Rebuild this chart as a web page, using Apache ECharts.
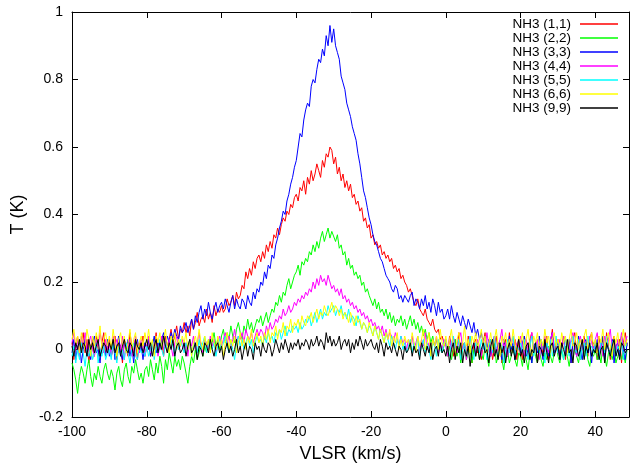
<!DOCTYPE html>
<html>
<head>
<meta charset="utf-8">
<script src="https://cdn.jsdelivr.net/npm/echarts@6/dist/echarts.min.js"></script>
<style>
html,body{margin:0;padding:0;background:#fff;}
#chart{width:632px;height:468px;}
</style>
</head>
<body>
<div id="chart"></div>
<script>
// Velocity channels (km/s)
const vlsr = [
-100,-99.5,-99,-98.5,-98,-97.5,-97,-96.5,-96,-95.5,-95,-94.5,-94,-93.5,-93,-92.5,-92,-91.5,-91,-90.5,
-90,-89.5,-89,-88.5,-88,-87.5,-87,-86.5,-86,-85.5,-85,-84.5,-84,-83.5,-83,-82.5,-82,-81.5,-81,-80.5,
-80,-79.5,-79,-78.5,-78,-77.5,-77,-76.5,-76,-75.5,-75,-74.5,-74,-73.5,-73,-72.5,-72,-71.5,-71,-70.5,
-70,-69.5,-69,-68.5,-68,-67.5,-67,-66.5,-66,-65.5,-65,-64.5,-64,-63.5,-63,-62.5,-62,-61.5,-61,-60.5,
-60,-59.5,-59,-58.5,-58,-57.5,-57,-56.5,-56,-55.5,-55,-54.5,-54,-53.5,-53,-52.5,-52,-51.5,-51,-50.5,
-50,-49.5,-49,-48.5,-48,-47.5,-47,-46.5,-46,-45.5,-45,-44.5,-44,-43.5,-43,-42.5,-42,-41.5,-41,-40.5,
-40,-39.5,-39,-38.5,-38,-37.5,-37,-36.5,-36,-35.5,-35,-34.5,-34,-33.5,-33,-32.5,-32,-31.5,-31,-30.5,
-30,-29.5,-29,-28.5,-28,-27.5,-27,-26.5,-26,-25.5,-25,-24.5,-24,-23.5,-23,-22.5,-22,-21.5,-21,-20.5,
-20,-19.5,-19,-18.5,-18,-17.5,-17,-16.5,-16,-15.5,-15,-14.5,-14,-13.5,-13,-12.5,-12,-11.5,-11,-10.5,
-10,-9.5,-9,-8.5,-8,-7.5,-7,-6.5,-6,-5.5,-5,-4.5,-4,-3.5,-3,-2.5,-2,-1.5,-1,-0.5,
0,0.5,1,1.5,2,2.5,3,3.5,4,4.5,5,5.5,6,6.5,7,7.5,8,8.5,9,9.5,
10,10.5,11,11.5,12,12.5,13,13.5,14,14.5,15,15.5,16,16.5,17,17.5,18,18.5,19,19.5,
20,20.5,21,21.5,22,22.5,23,23.5,24,24.5,25,25.5,26,26.5,27,27.5,28,28.5,29,29.5,
30,30.5,31,31.5,32,32.5,33,33.5,34,34.5,35,35.5,36,36.5,37,37.5,38,38.5,39,39.5,
40,40.5,41,41.5,42,42.5,43,43.5,44,44.5,45,45.5,46,46.5,47,47.5,48,48.5];

const nh3_11 = [
0.02,-0.03,0.01,0.04,-0.02,0.00,0.05,-0.01,0.03,-0.04,0.01,0.03,-0.02,0.04,0.00,-0.03,0.02,0.05,-0.01,0.01,
0.03,-0.02,0.00,0.04,-0.03,0.02,0.01,-0.04,0.03,0.00,-0.02,0.05,0.01,-0.01,0.03,-0.03,0.02,0.00,0.04,-0.02,
0.01,0.03,-0.02,0.02,0.00,0.05,-0.01,0.02,0.03,-0.02,0.04,0.01,0.03,0.06,0.02,0.04,0.07,0.03,0.06,0.05,
0.08,0.05,0.07,0.04,0.09,0.06,0.08,0.11,0.07,0.09,0.10,0.08,0.12,0.09,0.11,0.08,0.13,0.10,0.12,0.11,
0.13,0.11,0.12,0.15,0.13,0.14,0.16,0.13,0.17,0.15,0.16,0.19,0.18,0.23,0.21,0.24,0.22,0.26,0.24,0.27,
0.28,0.26,0.29,0.27,0.31,0.29,0.32,0.30,0.34,0.33,0.36,0.34,0.37,0.39,0.38,0.41,0.40,0.43,0.42,0.45,
0.46,0.44,0.48,0.47,0.50,0.46,0.51,0.49,0.53,0.50,0.52,0.55,0.53,0.51,0.56,0.54,0.58,0.57,0.60,0.59,
0.55,0.57,0.52,0.54,0.50,0.52,0.48,0.50,0.47,0.49,0.45,0.46,0.43,0.44,0.41,0.42,0.38,0.39,0.36,0.37,
0.33,0.34,0.31,0.32,0.30,0.31,0.28,0.29,0.27,0.28,0.26,0.27,0.24,0.25,0.23,0.24,0.21,0.22,0.20,0.19,
0.17,0.18,0.16,0.14,0.13,0.15,0.12,0.11,0.10,0.12,0.09,0.08,0.07,0.09,0.06,0.05,0.06,0.03,0.04,0.02,
0.03,-0.01,0.04,0.01,-0.02,0.03,0.00,0.05,-0.03,0.02,0.01,-0.02,0.04,0.00,-0.04,0.02,0.03,-0.01,0.01,-0.03,
0.02,0.05,-0.02,0.01,0.03,-0.03,0.00,0.04,-0.01,0.02,-0.04,0.01,0.03,-0.02,0.05,0.00,-0.01,0.03,-0.03,0.02,
0.00,-0.03,0.04,0.01,-0.02,0.03,0.05,-0.01,0.02,-0.04,0.01,0.03,-0.02,0.00,0.04,-0.03,0.02,0.06,-0.01,0.01,
0.03,-0.02,0.00,0.04,-0.03,0.02,0.01,-0.04,0.03,0.05,-0.01,0.02,-0.03,0.01,0.04,0.00,-0.02,0.03,0.05,-0.01,
0.02,-0.03,0.04,0.00,0.03,-0.02,0.05,0.01,-0.03,0.02,0.04,-0.01,0.00,0.03,-0.04,0.02,0.05,0.01];

const nh3_22 = [
-0.04,-0.06,-0.09,-0.13,-0.08,-0.05,-0.07,-0.10,-0.06,-0.03,-0.08,-0.11,-0.07,-0.09,-0.05,-0.08,-0.10,-0.06,-0.04,-0.07,
-0.09,-0.06,-0.08,-0.12,-0.07,-0.05,-0.09,-0.11,-0.06,-0.04,-0.08,-0.10,-0.05,-0.07,-0.03,-0.06,-0.09,-0.07,-0.10,-0.06,
-0.05,-0.08,-0.03,-0.06,-0.09,-0.04,-0.07,-0.02,-0.05,-0.10,-0.03,-0.06,-0.01,-0.04,-0.07,-0.02,-0.05,-0.03,-0.06,-0.02,
-0.04,-0.07,-0.10,-0.05,-0.02,-0.04,0.00,-0.03,-0.01,0.02,-0.02,0.01,-0.01,0.03,0.00,0.02,0.05,0.01,0.03,0.00,
0.04,0.06,0.02,0.05,0.03,0.07,0.04,0.02,0.06,0.08,0.05,0.03,0.07,0.05,0.09,0.06,0.08,0.05,0.07,0.09,
0.08,0.10,0.07,0.09,0.11,0.08,0.10,0.12,0.11,0.14,0.13,0.16,0.14,0.17,0.16,0.19,0.21,0.18,0.20,0.22,
0.23,0.25,0.22,0.26,0.25,0.27,0.26,0.29,0.28,0.31,0.29,0.32,0.30,0.33,0.35,0.32,0.34,0.36,0.33,0.35,
0.35,0.32,0.34,0.30,0.31,0.28,0.29,0.25,0.27,0.24,0.25,0.22,0.23,0.21,0.22,0.19,0.20,0.17,0.18,0.16,
0.16,0.13,0.15,0.12,0.14,0.11,0.12,0.10,0.12,0.09,0.11,0.08,0.10,0.07,0.09,0.08,0.10,0.07,0.09,0.06,
0.08,0.10,0.07,0.09,0.06,0.08,0.05,0.07,0.04,0.06,0.03,0.05,0.02,0.04,0.01,0.03,0.00,0.02,-0.01,0.01,
0.02,-0.02,0.01,-0.03,0.00,0.03,-0.02,0.01,-0.04,0.00,0.02,-0.03,-0.01,0.01,-0.04,0.00,-0.02,0.02,-0.03,-0.01,
-0.03,0.01,-0.02,-0.05,0.00,-0.01,0.02,-0.04,-0.02,0.01,-0.03,-0.06,-0.01,0.00,-0.04,-0.02,0.01,-0.03,-0.05,-0.01,
-0.02,-0.05,0.00,-0.03,-0.06,-0.01,-0.04,0.01,-0.02,-0.04,0.00,-0.03,-0.05,-0.01,-0.03,0.01,-0.02,-0.04,-0.01,0.02,
-0.02,-0.04,0.00,-0.03,0.01,-0.02,-0.05,-0.01,-0.03,0.01,-0.02,-0.04,0.00,-0.03,-0.01,0.02,-0.03,-0.05,-0.01,-0.02,
0.00,-0.03,-0.01,-0.04,0.01,-0.02,-0.05,-0.01,0.00,-0.03,0.01,-0.04,-0.02,0.00,-0.03,-0.01,-0.04,0.00];

const nh3_33 = [
-0.01,0.03,-0.03,0.01,0.02,-0.04,0.00,0.03,-0.02,0.01,-0.03,0.02,0.04,-0.01,0.00,-0.04,0.02,0.01,-0.02,0.03,
-0.02,0.00,0.03,-0.03,0.01,0.04,-0.01,-0.03,0.02,0.00,0.03,-0.02,0.01,-0.04,0.02,0.03,-0.01,0.01,-0.03,0.02,
0.00,0.03,-0.02,0.01,0.04,-0.01,0.02,0.00,0.03,0.05,0.01,0.04,0.02,0.05,0.03,0.06,0.04,0.03,0.07,0.05,
0.06,0.08,0.05,0.07,0.09,0.06,0.10,0.08,0.11,0.13,0.09,0.12,0.10,0.14,0.11,0.09,0.12,0.14,0.11,0.13,
0.14,0.12,0.15,0.13,0.11,0.14,0.16,0.12,0.15,0.13,0.12,0.15,0.14,0.12,0.16,0.14,0.13,0.17,0.15,0.18,
0.17,0.20,0.19,0.23,0.21,0.25,0.24,0.28,0.27,0.31,0.33,0.36,0.38,0.41,0.40,0.44,0.46,0.49,0.51,0.54,
0.56,0.60,0.64,0.63,0.68,0.71,0.73,0.72,0.78,0.80,0.79,0.83,0.86,0.85,0.89,0.87,0.93,0.90,0.96,0.91,
0.95,0.90,0.88,0.86,0.81,0.79,0.77,0.73,0.71,0.69,0.66,0.64,0.62,0.58,0.55,0.51,0.47,0.45,0.42,0.39,
0.37,0.34,0.32,0.31,0.29,0.27,0.26,0.24,0.22,0.21,0.20,0.18,0.17,0.19,0.18,0.15,0.16,0.14,0.16,0.15,
0.14,0.16,0.17,0.13,0.15,0.14,0.12,0.15,0.13,0.16,0.12,0.14,0.11,0.15,0.13,0.10,0.14,0.11,0.12,0.09,
0.10,0.12,0.09,0.13,0.10,0.08,0.11,0.09,0.07,0.10,0.08,0.06,0.09,0.07,0.05,0.08,0.04,0.06,0.03,0.05,
0.02,0.04,0.00,0.03,-0.02,0.01,0.04,-0.01,0.02,0.00,-0.03,0.03,0.01,-0.02,0.04,0.00,0.02,-0.03,0.01,0.03,
-0.01,0.02,0.04,-0.02,0.00,0.03,-0.04,0.01,0.02,-0.01,0.04,0.00,-0.03,0.02,0.01,-0.02,0.03,0.05,-0.01,0.00,
0.02,-0.03,0.01,0.04,-0.01,0.00,0.03,-0.04,0.02,0.01,-0.02,0.04,0.00,-0.03,0.02,0.03,-0.01,0.01,-0.04,0.02,
0.00,0.03,-0.02,0.01,0.04,-0.03,0.02,0.00,-0.01,0.03,-0.04,0.01,0.02,-0.02,0.04,0.00,-0.03,0.02];

const nh3_44 = [
0.02,0.05,0.00,0.03,-0.02,0.04,0.01,0.05,-0.01,0.02,0.04,0.00,-0.02,0.03,0.01,0.05,0.02,-0.01,0.03,0.00,
0.02,-0.02,0.04,0.01,0.03,-0.01,0.00,0.04,-0.03,0.02,0.01,0.03,-0.02,0.00,0.04,0.01,-0.01,0.03,0.02,-0.02,
0.01,0.04,-0.01,0.02,0.00,0.03,-0.02,0.01,0.04,0.00,0.02,-0.01,0.03,0.01,-0.02,0.02,0.04,0.00,0.01,0.03,
0.00,0.02,-0.02,0.03,0.01,0.04,0.00,0.02,0.05,0.01,-0.01,0.03,0.02,0.00,0.04,0.01,0.03,-0.01,0.02,0.04,
0.01,0.03,0.05,0.02,0.04,0.01,0.03,0.06,0.02,0.04,0.03,0.05,0.02,0.06,0.04,0.03,0.05,0.02,0.04,0.06,
0.04,0.06,0.05,0.03,0.07,0.05,0.08,0.06,0.07,0.09,0.08,0.10,0.09,0.12,0.10,0.11,0.13,0.11,0.12,0.14,
0.13,0.15,0.14,0.16,0.15,0.17,0.16,0.18,0.17,0.20,0.18,0.21,0.19,0.22,0.20,0.21,0.19,0.22,0.20,0.18,
0.19,0.17,0.18,0.16,0.18,0.15,0.16,0.14,0.15,0.13,0.14,0.12,0.13,0.11,0.12,0.10,0.11,0.09,0.10,0.08,
0.09,0.07,0.08,0.06,0.07,0.05,0.07,0.04,0.06,0.03,0.05,0.04,0.02,0.05,0.03,0.01,0.04,0.02,0.03,0.00,
0.03,0.01,0.04,0.00,0.02,0.04,-0.01,0.03,0.01,0.05,0.00,0.02,-0.02,0.03,0.01,0.04,-0.01,0.02,0.00,0.03,
0.01,-0.02,0.03,0.00,0.04,0.01,-0.01,0.03,0.05,0.00,0.02,-0.03,0.01,0.04,0.00,0.02,-0.01,0.03,0.01,-0.02,
0.03,0.00,0.05,0.01,-0.02,0.02,0.04,-0.01,0.01,0.03,0.06,0.00,0.02,-0.02,0.03,0.01,0.04,-0.01,0.02,0.00,
0.04,0.01,-0.02,0.03,0.00,0.02,0.05,-0.01,0.01,0.03,-0.03,0.02,0.00,0.04,0.01,-0.01,0.03,0.05,0.00,0.02,
-0.01,0.03,0.01,0.04,-0.02,0.02,0.00,0.03,0.05,0.01,-0.02,0.02,0.04,0.00,0.03,-0.01,0.01,0.04,0.02,0.00,
0.03,0.05,0.00,0.02,-0.02,0.04,0.01,0.03,0.06,0.00,0.02,-0.01,0.03,0.01,0.05,0.00,0.02,0.04];

const nh3_55 = [
-0.02,0.01,-0.04,0.00,-0.03,0.02,-0.01,-0.05,0.00,-0.02,0.01,-0.03,-0.01,0.02,-0.04,0.00,-0.02,0.01,-0.03,-0.01,
0.00,-0.03,0.02,-0.01,-0.04,0.01,-0.02,0.00,-0.03,0.02,-0.01,-0.04,0.00,0.02,-0.02,-0.03,0.01,-0.01,0.00,-0.02,
0.01,-0.02,0.00,0.02,-0.03,0.01,-0.01,0.03,0.00,-0.02,0.02,0.00,-0.01,0.03,0.01,-0.02,0.02,0.00,0.03,0.01,
-0.01,0.02,0.00,0.03,-0.02,0.01,0.02,-0.01,0.03,0.00,0.02,0.04,-0.01,0.01,0.03,0.00,0.02,-0.02,0.01,0.03,
0.00,0.02,0.04,0.01,-0.01,0.03,0.00,-0.03,0.02,0.04,0.01,0.03,0.00,0.02,0.04,0.01,0.03,-0.01,0.02,0.04,
0.02,0.03,0.01,0.04,0.02,0.05,0.03,0.04,0.02,0.05,0.04,0.06,0.03,0.05,0.07,0.04,0.06,0.05,0.07,0.06,
0.07,0.05,0.08,0.06,0.07,0.09,0.08,0.10,0.07,0.09,0.11,0.08,0.10,0.12,0.09,0.11,0.10,0.13,0.11,0.12,
0.13,0.10,0.12,0.11,0.13,0.10,0.11,0.09,0.12,0.08,0.10,0.09,0.07,0.10,0.08,0.06,0.08,0.07,0.05,0.07,
0.06,0.04,0.07,0.05,0.03,0.06,0.04,0.02,0.05,0.03,0.01,0.04,0.02,0.00,0.03,0.01,0.04,0.00,0.02,-0.01,
0.01,0.03,-0.01,0.02,0.00,0.04,-0.02,0.01,0.03,-0.01,0.02,0.00,-0.03,0.02,0.01,-0.02,0.03,0.00,-0.01,0.02,
0.03,0.00,-0.02,0.02,0.04,-0.01,0.01,0.03,-0.03,0.00,0.02,-0.02,0.01,0.04,0.00,-0.03,0.02,0.01,-0.01,0.03,
0.00,0.02,-0.03,0.01,0.03,-0.01,0.04,0.00,-0.02,0.02,0.01,-0.04,0.00,0.03,-0.01,0.02,0.04,-0.02,0.01,0.00,
0.02,-0.01,0.03,0.00,-0.03,0.01,0.04,-0.02,0.02,0.00,-0.01,0.03,0.01,-0.04,0.02,0.00,0.03,-0.02,0.01,0.04,
-0.01,0.02,0.00,-0.03,0.03,0.01,-0.02,0.02,0.04,0.00,-0.01,0.03,-0.03,0.01,0.02,-0.02,0.04,0.00,0.01,-0.01,
0.02,0.00,-0.03,0.03,0.01,-0.01,0.04,0.00,-0.02,0.02,0.03,-0.02,0.01,0.00,0.03,-0.03,0.02,0.01];

const nh3_66 = [
0.03,0.06,0.01,0.04,-0.01,0.05,0.02,0.00,0.06,0.03,-0.02,0.04,0.01,0.05,0.02,0.07,0.00,0.03,0.05,0.01,
0.04,0.00,0.06,0.02,-0.02,0.03,0.05,0.01,0.04,-0.01,0.02,0.06,0.00,0.03,0.05,-0.01,0.02,0.04,0.01,0.05,
0.02,0.06,0.01,0.03,-0.02,0.04,0.02,0.05,0.00,0.03,0.06,0.01,-0.01,0.04,0.02,0.05,0.00,0.03,0.01,0.04,
0.02,0.05,0.00,0.03,-0.02,0.02,0.04,0.01,0.06,0.02,0.00,0.04,0.01,0.03,-0.01,0.05,0.02,0.00,0.04,0.01,
0.03,-0.02,0.02,0.05,0.00,0.03,0.01,0.04,-0.01,0.02,0.05,0.01,0.03,0.00,0.04,0.02,0.06,0.01,0.03,0.05,
0.02,0.04,0.01,0.05,0.03,0.06,0.02,0.05,0.04,0.07,0.03,0.06,0.05,0.08,0.04,0.07,0.06,0.09,0.05,0.08,
0.07,0.09,0.06,0.10,0.08,0.07,0.10,0.09,0.11,0.08,0.10,0.12,0.09,0.11,0.10,0.13,0.11,0.10,0.12,0.14,
0.11,0.13,0.12,0.10,0.12,0.09,0.11,0.10,0.08,0.11,0.09,0.07,0.10,0.08,0.09,0.06,0.08,0.07,0.05,0.08,
0.06,0.04,0.07,0.05,0.03,0.06,0.04,0.02,0.05,0.03,0.06,0.01,0.04,0.02,0.05,0.00,0.03,0.01,0.04,0.02,
0.03,0.00,0.05,0.02,-0.01,0.04,0.01,0.03,0.06,0.00,0.02,0.05,-0.02,0.03,0.01,0.04,0.00,0.06,0.02,0.01,
0.04,0.00,0.03,0.06,0.01,-0.02,0.03,0.05,0.00,0.02,0.07,0.01,0.03,-0.01,0.04,0.02,0.05,0.00,0.03,0.06,
0.01,0.04,-0.01,0.02,0.05,0.00,0.03,0.06,0.01,-0.02,0.04,0.02,0.05,0.00,0.03,0.01,0.06,0.02,-0.01,0.04,
0.02,0.05,0.00,0.03,0.06,0.01,-0.02,0.04,0.02,0.05,0.00,0.03,0.01,0.06,0.02,0.04,-0.01,0.03,0.05,0.01,
0.03,0.00,0.05,0.02,0.04,-0.01,0.03,0.06,0.01,0.02,0.05,0.00,0.03,0.01,0.04,0.06,0.00,0.02,0.05,0.01,
0.03,-0.01,0.04,0.02,0.06,0.00,0.03,0.05,0.01,-0.02,0.04,0.02,0.05,0.00,0.03,0.06,0.01,0.03];

const nh3_99 = [
0.01,-0.02,0.02,0.00,0.03,-0.01,0.02,0.01,-0.02,0.03,0.00,0.02,-0.01,0.01,0.03,-0.02,0.00,0.02,0.01,-0.01,
0.02,0.00,0.03,-0.01,0.01,0.02,-0.02,0.01,0.03,0.00,-0.01,0.02,0.01,-0.02,0.03,0.01,0.00,0.02,-0.01,0.01,
0.03,0.00,0.02,-0.02,0.01,0.03,-0.01,0.02,0.00,0.04,0.01,-0.01,0.02,0.00,0.03,-0.02,0.01,0.02,-0.01,0.00,
0.02,-0.02,0.01,0.03,-0.01,0.00,0.02,-0.03,0.01,0.00,-0.02,0.02,0.01,-0.01,0.03,0.00,-0.02,0.01,0.02,-0.01,
0.01,-0.03,0.00,0.02,-0.01,0.01,-0.02,0.00,0.03,-0.01,0.01,-0.03,0.00,0.02,-0.02,0.01,0.00,-0.03,0.02,0.00,
0.01,-0.02,0.02,0.00,-0.01,0.02,0.01,-0.02,0.00,0.03,0.01,-0.01,0.02,0.00,0.03,0.01,-0.01,0.02,0.00,0.02,
0.01,0.03,0.00,0.02,0.01,0.03,0.02,0.00,0.03,0.01,0.02,0.04,0.01,0.03,0.02,0.00,0.05,0.02,0.04,0.01,
0.03,0.01,0.02,0.04,0.00,0.02,0.03,0.01,0.03,-0.01,0.02,0.00,0.03,0.01,0.04,0.02,0.00,0.03,0.01,0.02,
0.03,0.01,0.00,0.02,-0.01,0.03,0.01,-0.02,0.02,0.00,0.01,-0.01,0.02,0.00,-0.02,0.01,0.00,-0.03,0.01,-0.01,
0.00,0.02,-0.02,0.01,-0.01,0.00,-0.03,0.02,0.00,-0.02,0.01,-0.01,0.02,-0.03,0.00,0.01,-0.02,0.02,-0.01,0.00,
-0.02,0.01,-0.04,0.00,0.02,-0.03,0.01,-0.01,0.02,-0.04,0.00,-0.02,0.01,-0.05,0.00,0.02,-0.02,0.01,-0.03,0.00,
0.02,-0.01,0.00,-0.04,0.01,0.03,-0.02,0.00,-0.03,0.02,-0.01,0.01,-0.04,0.00,0.02,-0.02,0.01,-0.03,0.00,0.03,
-0.02,0.00,-0.04,0.01,0.02,-0.03,0.00,-0.01,0.02,-0.04,0.01,0.00,-0.02,0.03,-0.01,-0.04,0.01,0.02,-0.02,0.00,
0.01,-0.03,0.02,0.00,-0.02,0.03,-0.01,0.00,-0.04,0.02,0.01,-0.02,0.00,0.03,-0.03,0.01,-0.01,0.02,-0.02,0.00,
-0.01,0.02,-0.03,0.00,0.01,-0.04,0.02,0.00,-0.02,0.01,0.03,-0.02,0.00,-0.03,0.02,0.01,-0.01,0.00];

const seriesNames = ['NH3 (1,1)','NH3 (2,2)','NH3 (3,3)','NH3 (4,4)','NH3 (5,5)','NH3 (6,6)','NH3 (9,9)'];
const seriesValues = [nh3_11, nh3_22, nh3_33, nh3_44, nh3_55, nh3_66, nh3_99];
const seriesColors = ['#ff0000','#00ff00','#0000ff','#ff00ff','#00ffff','#ffff00','#000000'];

const xTicks = [-100,-80,-60,-40,-20,0,20,40];

const FONT = '"Liberation Sans", Arial, sans-serif';

const chart = echarts.init(document.getElementById('chart'), null, {renderer: 'canvas'});

const series = seriesNames.map((name, k) => ({
  name: name,
  type: 'line',
  xAxisIndex: 0,
  yAxisIndex: 0,
  data: vlsr.map((v, i) => [v, seriesValues[k][i]]).filter(p => p[1] !== undefined),
  showSymbol: false,
  symbol: 'none',
  animation: false,
  lineStyle: {width: 1, color: seriesColors[k]},
  itemStyle: {color: seriesColors[k]},
  z: 2 + k
}));

const tickStyle = {show: true, inside: true, length: 6, lineStyle: {color: '#000', width: 1}};

chart.setOption({
  animation: false,
  backgroundColor: '#ffffff',
  grid: {left: 72, top: 12, width: 562, height: 406, containLabel: false},
  legend: {
    orient: 'vertical',
    right: 14,
    top: 17,
    align: 'right',
    padding: 0,
    itemGap: 0,
    itemWidth: 38,
    itemHeight: 1.5,
    icon: 'rect',
    data: seriesNames,
    textStyle: {fontFamily: FONT, fontSize: 13.5, color: '#000', lineHeight: 14, padding: [0, 4, 0, 0]}
  },
  xAxis: [{
    type: 'value',
    position: 'bottom',
    min: -100,
    max: 49,
    interval: 20,
    name: 'VLSR (km/s)',
    nameLocation: 'middle',
    nameGap: 28,
    nameTextStyle: {fontFamily: FONT, fontSize: 18, color: '#000'},
    axisLine: {show: true, onZero: false, lineStyle: {color: '#000', width: 1}},
    axisTick: tickStyle,
    splitLine: {show: false},
    axisLabel: {
      fontFamily: FONT, fontSize: 14, color: '#000', margin: 8,
      formatter: v => xTicks.indexOf(Math.round(v)) >= 0 && Math.abs(v - Math.round(v)) < 1e-6 ? String(Math.round(v)) : ''
    }
  }, {
    type: 'value',
    position: 'top',
    min: -100,
    max: 49,
    interval: 20,
    axisLine: {show: true, onZero: false, lineStyle: {color: '#000', width: 1}},
    axisTick: tickStyle,
    axisLabel: {show: false},
    splitLine: {show: false}
  }],
  yAxis: [{
    type: 'value',
    position: 'left',
    min: -0.2,
    max: 1,
    interval: 0.2,
    name: 'T (K)',
    nameLocation: 'middle',
    nameGap: 45,
    nameTextStyle: {fontFamily: FONT, fontSize: 18, color: '#000'},
    axisLine: {show: true, onZero: false, lineStyle: {color: '#000', width: 1}},
    axisTick: tickStyle,
    splitLine: {show: false},
    axisLabel: {fontFamily: FONT, fontSize: 14, color: '#000', margin: 9}
  }, {
    type: 'value',
    position: 'right',
    min: -0.2,
    max: 1,
    interval: 0.2,
    axisLine: {show: true, onZero: false, lineStyle: {color: '#000', width: 1}},
    axisTick: tickStyle,
    axisLabel: {show: false},
    splitLine: {show: false}
  }],
  series: series
});
</script>
</body>
</html>
